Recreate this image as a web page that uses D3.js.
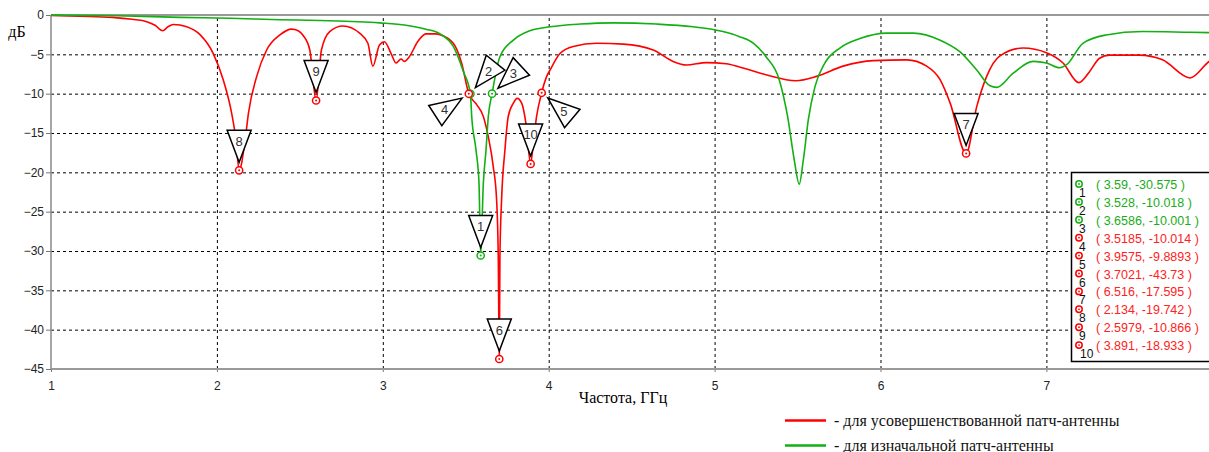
<!DOCTYPE html>
<html>
<head>
<meta charset="utf-8">
<script src="https://cdn.jsdelivr.net/npm/d3@7"></script>
<style>
  body { margin: 0; background: #fff; }
  svg { display: block; }
</style>
</head>
<body>
<svg id="chart" width="1209" height="452"></svg>
<script>
// ----- data -----
var freqRed = [1.00, 1.17, 1.37, 1.49, 1.577, 1.627, 1.673, 1.705, 1.737, 1.818, 1.898, 1.978, 2.039, 2.089, 2.115, 2.134,
  2.17, 2.19, 2.24, 2.30, 2.38, 2.45, 2.49, 2.52, 2.56, 2.5979, 2.63, 2.68, 2.76, 2.86, 2.91, 2.94, 2.98, 3.01, 3.05,
  3.08, 3.11, 3.13, 3.16, 3.21, 3.26, 3.32, 3.345, 3.425, 3.475, 3.5185, 3.566, 3.606, 3.636, 3.666, 3.686, 3.696,
  3.7021, 3.706, 3.716, 3.736, 3.756, 3.787, 3.81, 3.837, 3.863, 3.891, 3.907, 3.927, 3.9575, 3.988, 4.008, 4.068,
  4.148, 4.29, 4.45, 4.63, 4.75, 4.83, 4.95, 5.07, 5.15, 5.31, 5.49, 5.615, 5.775, 5.957, 6.158, 6.278, 6.36, 6.42,
  6.516, 6.58, 6.64, 6.72, 6.86, 7.0, 7.1, 7.195, 7.26, 7.32, 7.38, 7.56, 7.70, 7.866, 7.98, 8.0];
var dbRed = [-0.05, -0.15, -0.3, -0.55, -0.85, -1.3, -2.0, -1.5, -1.2, -1.5, -2.5, -4.9, -8.3, -12.5, -15.9, -19.742,
  -15.9, -12.5, -7.8, -4.45, -2.54, -1.8, -2.0, -2.6, -4.45, -10.866, -4.45, -2.1, -1.4, -2.3, -3.6, -6.5, -3.8, -3.4, -4.9,
  -6.1, -5.6, -5.9, -5.3, -3.4, -2.4, -2.4, -2.5, -3.6, -6.1, -10.014, -11.4, -12.9, -15.5, -19.3, -23.5, -30.7,
  -43.73, -30.7, -23.5, -17.2, -12.9, -11.2, -10.6, -11.2, -13.8, -18.933, -16.3, -12.9, -9.8893, -7.8, -7.0, -4.9,
  -4.0, -3.6, -3.7, -4.45, -5.9, -6.35, -6.05, -6.2, -6.6, -7.6, -8.35, -7.8, -6.5, -5.8, -5.7, -6.5, -8.25, -11.2,
  -17.595, -11.65, -7.8, -5.2, -4.2, -4.8, -6.1, -8.6, -7.2, -5.5, -5.1, -5.1, -5.7, -8.0, -5.9, -5.6];

var freqGreen = [1.0, 1.4, 1.78, 2.08, 2.38, 2.62, 2.98, 3.14, 3.26, 3.345, 3.425, 3.486, 3.528, 3.536, 3.562, 3.58,
  3.59, 3.606, 3.622, 3.636, 3.6586, 3.706, 3.787, 3.887, 4.008, 4.19, 4.39, 4.65, 4.87, 5.05, 5.15, 5.235, 5.31, 5.39,
  5.44, 5.48, 5.51, 5.535, 5.565, 5.605, 5.665, 5.755, 5.876, 6.037, 6.198, 6.36, 6.48, 6.58, 6.66, 6.70, 6.80, 6.92,
  7.0, 7.08, 7.12, 7.22, 7.36, 7.58, 7.866, 8.0];
var dbGreen = [-0.02, -0.1, -0.3, -0.42, -0.6, -0.7, -1.0, -1.3, -1.8, -2.4, -4.0, -7.2, -10.018, -12.9, -17.2, -21.4,
  -30.575, -21.4, -17.2, -12.9, -10.001, -5.3, -3.2, -2.0, -1.5, -1.15, -1.0, -1.15, -1.5, -2.1, -2.75, -3.6, -5.3, -8.25,
  -12.9, -18.4, -21.5, -18.4, -13.3, -9.1, -6.1, -4.2, -3.0, -2.3, -2.3, -3.2, -4.7, -7.0, -9.0, -9.2, -7.4, -5.9,
  -6.1, -6.7, -6.35, -3.6, -2.54, -2.1, -2.2, -2.25];

// markers: number, series, freq, dB, direction of the flag (deg)
var markerIds = [1, 2, 3, 4, 5, 6, 7, 8, 9, 10];
var markerSeries = ["g", "g", "g", "r", "r", "r", "r", "r", "r", "r"];
var markerFreq = [3.59, 3.528, 3.6586, 3.5185, 3.9575, 3.7021, 6.516, 2.134, 2.5979, 3.891];
var markerDb = [-30.575, -10.018, -10.001, -10.014, -9.8893, -43.73, -17.595, -19.742, -10.866, -18.933];
var markerAngle = [0, 39, 47, -123, 130, 0, 0, 0, 0, 0];

var xTicks = [1, 2, 3, 4, 5, 6, 7];
var yTicks = [0, -5, -10, -15, -20, -25, -30, -35, -40, -45];
var legendNames = ["- для усовершенствованной патч-антенны", "- для изначальной патч-антенны"];

var RED = "#ff0000", GREEN = "#12b012";
var colorOf = function (s) { return s === "r" ? RED : GREEN; };

// ----- layout (names avoid window.top) -----
var plotL = 51, plotR = 1212.3, plotT = 15, plotB = 369;

var svg = d3.select("#chart");
var x = d3.scaleLinear().domain([1, 8]).range([plotL, plotR]);
var y = d3.scaleLinear().domain([0, -45]).range([plotT, plotB]);

svg.append("defs").append("clipPath").attr("id", "plot-clip")
  .append("rect").attr("x", plotL).attr("y", plotT - 2).attr("width", plotR - plotL).attr("height", plotB - plotT + 4);

// grid
var gy = svg.append("g").attr("transform", "translate(" + plotL + ",0)")
  .call(d3.axisLeft(y).tickValues(yTicks.slice(1, -1)).tickSize(-(plotR - plotL)).tickFormat(""));
var gx = svg.append("g").attr("transform", "translate(0," + plotB + ")")
  .call(d3.axisBottom(x).tickValues(xTicks.slice(1)).tickSize(-(plotB - plotT)).tickFormat(""));
[gy, gx].forEach(function (g) {
  g.select(".domain").remove();
  g.selectAll("line").attr("stroke", "#000").attr("stroke-width", 1).attr("stroke-dasharray", "3,3");
});

// axes with labels
var ay = svg.append("g").attr("transform", "translate(" + plotL + ",0)")
  .call(d3.axisLeft(y).tickValues(yTicks).tickSize(5).tickPadding(2).tickFormat(d3.format("d")));
var ax = svg.append("g").attr("transform", "translate(0," + plotB + ")")
  .call(d3.axisBottom(x).tickValues(xTicks).tickSize(3).tickPadding(9).tickFormat(d3.format("d")));
[ay, ax].forEach(function (g) {
  g.select(".domain").remove();
  g.selectAll("line").attr("stroke", "#777");
  g.selectAll("text").attr("font-family", "Liberation Sans, Arial, sans-serif")
    .attr("font-size", 12).attr("fill", "#222");
});

// frame lines
svg.append("line").attr("x1", plotL).attr("x2", plotR).attr("y1", plotT).attr("y2", plotT)
  .attr("stroke", "#999").attr("stroke-width", 2);
svg.append("line").attr("x1", plotL).attr("x2", plotR).attr("y1", plotB).attr("y2", plotB)
  .attr("stroke", "#999").attr("stroke-width", 2);
svg.append("line").attr("x1", plotL).attr("x2", plotL).attr("y1", plotT).attr("y2", plotB)
  .attr("stroke", "#888").attr("stroke-width", 1.5);

// axis titles
svg.append("text").attr("x", 17).attr("y", 37).attr("text-anchor", "middle")
  .attr("font-family", "Liberation Serif, Times New Roman, serif").attr("font-size", 16).text("дБ");
svg.append("text").attr("x", 623).attr("y", 403).attr("text-anchor", "middle")
  .attr("font-family", "Liberation Serif, Times New Roman, serif").attr("font-size", 16).text("Частота, ГГц");

// curves
var line = d3.line()
  .x(function (d) { return x(d[0]); })
  .y(function (d) { return y(d[1]); })
  .curve(d3.curveMonotoneX);

var curves = svg.append("g").attr("clip-path", "url(#plot-clip)");
curves.append("path").datum(d3.zip(freqRed, dbRed))
  .attr("d", line).attr("fill", "none").attr("stroke", RED).attr("stroke-width", 1.6);
curves.append("path").datum(d3.zip(freqGreen, dbGreen))
  .attr("d", line).attr("fill", "none").attr("stroke", GREEN).attr("stroke-width", 1.6);

// marker flags (triangles pointing at the marker)
var flags = svg.append("g");
markerIds.forEach(function (id, i) {
  var px = x(markerFreq[i]), py = y(markerDb[i]);
  var a = markerAngle[i];
  var g = flags.append("g").attr("transform", "translate(" + px + "," + py + ")");
  g.append("path").attr("d", "M0,-8L-12,-40L12,-40Z")
    .attr("transform", "rotate(" + a + ")")
    .attr("fill", "#fff").attr("stroke", "#000").attr("stroke-width", 1.5).attr("stroke-linejoin", "miter");
  var r = a * Math.PI / 180;
  var lx = 29 * Math.sin(r), ly = -29 * Math.cos(r);
  g.append("text").attr("x", lx).attr("y", ly + 4.5).attr("text-anchor", "middle")
    .attr("font-family", "Liberation Sans, Arial, sans-serif").attr("font-size", 13).attr("fill", "#333")
    .text(id);
});

// marker circles
var dots = svg.append("g");
markerIds.forEach(function (id, i) {
  var px = x(markerFreq[i]), py = y(markerDb[i]);
  dots.append("circle").attr("cx", px).attr("cy", py).attr("r", 3.6)
    .attr("fill", "#fff").attr("stroke", colorOf(markerSeries[i])).attr("stroke-width", 1.5);
  dots.append("circle").attr("cx", px).attr("cy", py).attr("r", 1).attr("fill", colorOf(markerSeries[i]));
});

// marker readout box
var box = svg.append("g");
box.append("rect").attr("x", 1071.5).attr("y", 172.5).attr("width", 160).attr("height", 189)
  .attr("fill", "#fff").attr("stroke", "#000").attr("stroke-width", 1.5);
markerIds.forEach(function (id, i) {
  var cy = 184 + i * 17.9;
  var c = colorOf(markerSeries[i]);
  box.append("circle").attr("cx", 1079).attr("cy", cy).attr("r", 3.2)
    .attr("fill", "#fff").attr("stroke", c).attr("stroke-width", 1.5);
  box.append("circle").attr("cx", 1079).attr("cy", cy).attr("r", 0.9).attr("fill", c);
  box.append("text").attr("x", id < 10 ? 1079 : 1080).attr("y", cy + 13)
    .attr("font-family", "Liberation Sans, Arial, sans-serif").attr("font-size", 12).attr("fill", "#111")
    .text(id);
  box.append("text").attr("x", 1096).attr("y", cy + 5)
    .attr("font-family", "Liberation Sans, Arial, sans-serif").attr("font-size", 12.5)
    .attr("fill", markerSeries[i] === "r" ? "#f22" : "#1aac1a")
    .text("( " + markerFreq[i] + ", " + markerDb[i] + " )");
});

// series legend
var legColors = [RED, GREEN];
legendNames.forEach(function (name, i) {
  var ly = 420.5 + i * 25;
  svg.append("line").attr("x1", 785).attr("x2", 826).attr("y1", ly).attr("y2", ly)
    .attr("stroke", legColors[i]).attr("stroke-width", 2.5);
  svg.append("text").attr("x", 834).attr("y", ly + 5)
    .attr("font-family", "Liberation Serif, Times New Roman, serif").attr("font-size", 16).attr("fill", "#111")
    .text(name);
});
</script>
</body>
</html>
